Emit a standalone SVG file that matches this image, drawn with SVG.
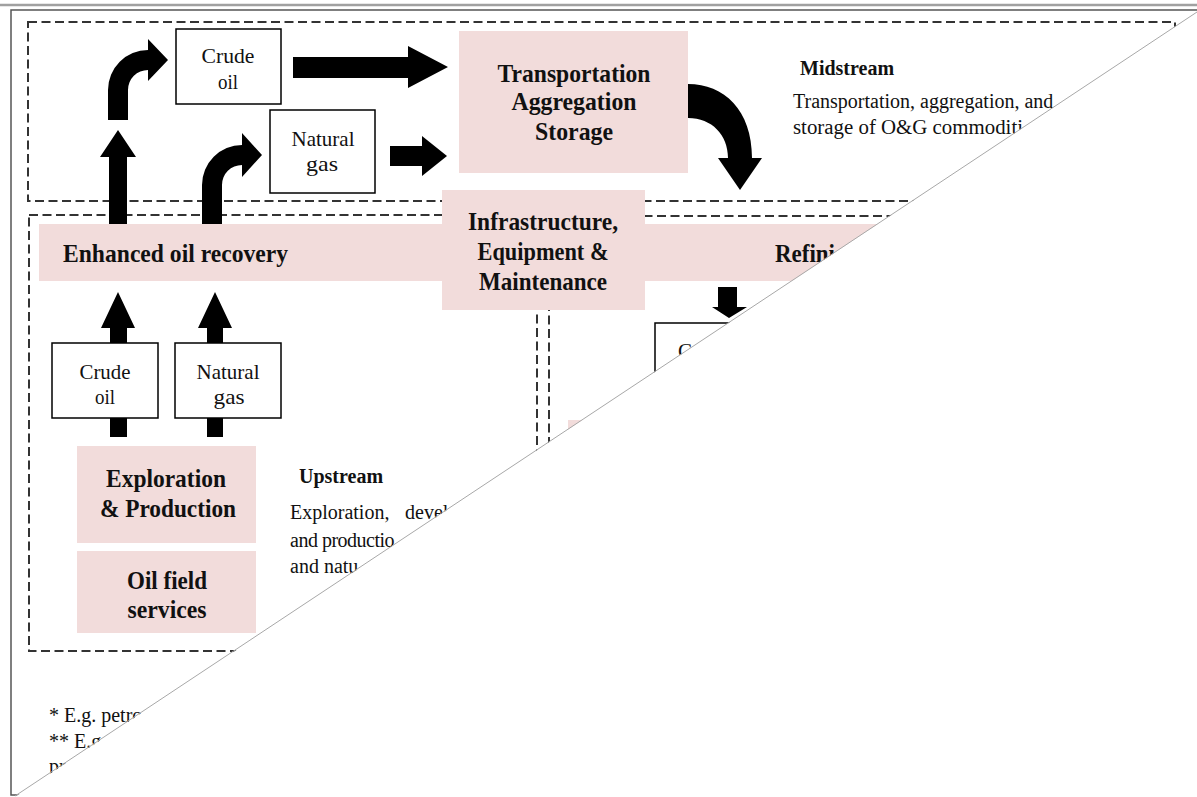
<svg xmlns="http://www.w3.org/2000/svg" width="1197" height="797" viewBox="0 0 1197 797">
<style>
.dash{fill:none;stroke:#333;stroke-width:2;stroke-dasharray:9 4.5}
.pink{fill:#f2dcdb}
.box{fill:#fff;stroke:#000;stroke-width:1.5}
.arr{fill:#000}
.b{font-family:"Liberation Serif",serif;font-weight:bold;font-size:26px;fill:#111}
.s{font-family:"Liberation Serif",serif;font-size:21px;fill:#111}
.t{font-family:"Liberation Serif",serif;font-size:20px;fill:#111}
.tb{font-family:"Liberation Serif",serif;font-size:20px;font-weight:bold;fill:#111}
.c{text-anchor:middle}
</style>
<defs>
<clipPath id="cut"><polygon points="0,0 1197,0 1197,12 15,797 0,797"/></clipPath>
</defs>
<rect width="1197" height="797" fill="#fff"/>
<g clip-path="url(#cut)">
<g id="frame">
<line x1="0" y1="5" x2="1197" y2="5" stroke="#a0a0a0" stroke-width="2.5"/>
<polyline points="1197,10 11,10 11,795 40,795" fill="none" stroke="#555" stroke-width="1.5"/>
</g>
<g id="regions">
<rect id="midstream-box" class="dash" x="28" y="22" width="1147" height="179"/>
<rect id="upstream-box" class="dash" x="29" y="215" width="508" height="436"/>
<rect id="downstream-box" class="dash" x="549" y="216" width="620" height="440"/>
</g>
<g id="band">
<rect class="pink" x="39" y="224" width="1100" height="57"/>
<text class="b" x="63" y="262" textLength="225" lengthAdjust="spacingAndGlyphs">Enhanced oil recovery</text>
<text class="b" x="775" y="262" textLength="60" lengthAdjust="spacingAndGlyphs">Refini</text>
</g>
<g id="connectors">
<path class="arr" d="M108,120 L108,90 A40,40 0 0 1 148,50 L148,39 L168,60 L148,81 L148,70 A20,20 0 0 0 128,90 L128,120 Z"/>
<path class="arr" d="M202,224 L202,185 A40,40 0 0 1 242,145 L242,133 L262,155 L242,177 L242,165 A20,20 0 0 0 222,185 L222,224 Z"/>
<path class="arr" d="M109,224 L109,157 L100,157 L118,130 L136,157 L127,157 L127,224 Z"/>
<path class="arr" d="M293,57 L408,57 L408,46 L448,67 L408,88 L408,78 L293,78 Z"/>
<path class="arr" d="M390,146 L422,146 L422,136 L447,156 L422,176 L422,166 L390,166 Z"/>
<path class="arr" d="M688,84 C724,84 752,110 752,158 L762,158 L740,190 L718,158 L728,158 C728,135 712,118 688,118 Z"/>
<path class="arr" d="M110,343 L110,328 L101,328 L118,292 L135,328 L127,328 L127,343 Z"/>
<path class="arr" d="M207,343 L207,328 L198,328 L215,292 L232,328 L223,328 L223,343 Z"/>
<rect class="arr" x="110" y="417" width="17" height="20"/>
<rect class="arr" x="207" y="417" width="16" height="20"/>
<path class="arr" d="M718,287 L737,287 L737,307 L747,307 L729,318 L712,307 L718,307 Z"/>
</g>
<g id="crude-oil-top">
<rect class="box" x="176" y="29" width="105" height="75"/>
<text class="s c" x="228" y="63" textLength="53" lengthAdjust="spacingAndGlyphs">Crude</text>
<text class="s c" x="228" y="89" textLength="20" lengthAdjust="spacingAndGlyphs">oil</text>
</g>
<g id="natural-gas-top">
<rect class="box" x="270" y="110" width="105" height="83"/>
<text class="s c" x="323" y="146" textLength="63" lengthAdjust="spacingAndGlyphs">Natural</text>
<text class="s c" x="322" y="171" textLength="32" lengthAdjust="spacingAndGlyphs">gas</text>
</g>
<g id="transportation">
<rect class="pink" x="459" y="31" width="229" height="142"/>
<text class="b c" x="574" y="82" textLength="153" lengthAdjust="spacingAndGlyphs">Transportation</text>
<text class="b c" x="574" y="110" textLength="125" lengthAdjust="spacingAndGlyphs">Aggregation</text>
<text class="b c" x="574" y="140" textLength="78" lengthAdjust="spacingAndGlyphs">Storage</text>
</g>
<g id="infrastructure">
<rect class="pink" x="442" y="190" width="203" height="120"/>
<text class="b c" x="543" y="230" textLength="150" lengthAdjust="spacingAndGlyphs">Infrastructure,</text>
<text class="b c" x="543" y="260" textLength="131" lengthAdjust="spacingAndGlyphs">Equipment &amp;</text>
<text class="b c" x="543" y="290" textLength="128" lengthAdjust="spacingAndGlyphs">Maintenance</text>
</g>
<g id="midstream-label">
<text class="tb" x="800" y="75">Midstream</text>
<text class="t" x="793" y="108">Transportation, aggregation, and</text>
<text class="t" x="793" y="134" textLength="230" lengthAdjust="spacingAndGlyphs">storage of O&amp;G commoditi</text>
</g>
<g id="crude-oil-low">
<rect class="box" x="52" y="343" width="106" height="75"/>
<text class="s c" x="105" y="379" textLength="51" lengthAdjust="spacingAndGlyphs">Crude</text>
<text class="s c" x="105" y="404" textLength="20" lengthAdjust="spacingAndGlyphs">oil</text>
</g>
<g id="natural-gas-low">
<rect class="box" x="175" y="343" width="106" height="75"/>
<text class="s c" x="228" y="379" textLength="63" lengthAdjust="spacingAndGlyphs">Natural</text>
<text class="s c" x="229" y="404" textLength="31" lengthAdjust="spacingAndGlyphs">gas</text>
</g>
<g id="exploration">
<rect class="pink" x="77" y="446" width="179" height="97"/>
<text class="b c" x="166" y="487" textLength="120" lengthAdjust="spacingAndGlyphs">Exploration</text>
<text class="b c" x="168" y="517" textLength="136" lengthAdjust="spacingAndGlyphs">&amp; Production</text>
</g>
<g id="oilfield">
<rect class="pink" x="77" y="551" width="179" height="82"/>
<text class="b c" x="167" y="589" textLength="80" lengthAdjust="spacingAndGlyphs">Oil field</text>
<text class="b c" x="167" y="618" textLength="79" lengthAdjust="spacingAndGlyphs">services</text>
</g>
<g id="upstream-label">
<text class="tb" x="299" y="483">Upstream</text>
<text class="t" y="519"><tspan x="290">Exploration,</tspan><tspan x="405">devel</tspan></text>
<text class="t" x="290" y="547" letter-spacing="-0.5">and productio</text>
<text class="t" x="290" y="573">and natu</text>
</g>
<g id="downstream-partial">
<rect class="box" x="655" y="323" width="105" height="75"/>
<text class="s" x="678" y="358">C</text>
<rect class="pink" x="568" y="420" width="180" height="80"/>
</g>
<g id="footnotes">
<text class="t" x="49" y="722">* E.g. petro</text>
<text class="t" x="49" y="748">** E.g.</text>
<text class="t" x="49" y="773">pr</text>
</g>
</g>
<line x1="15" y1="796" x2="1197" y2="12" stroke="#a8a8a8" stroke-width="1"/>
</svg>
